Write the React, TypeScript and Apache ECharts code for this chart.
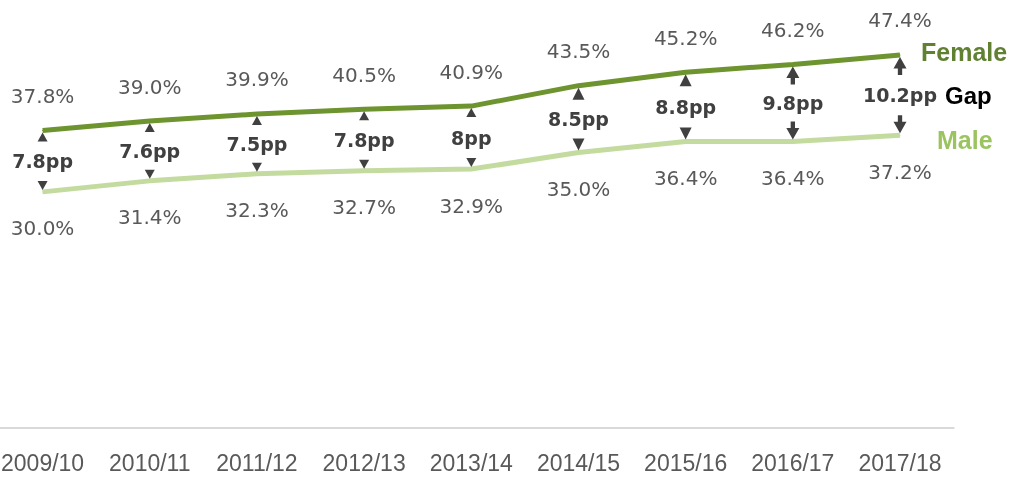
import React, { useEffect, useRef } from "react";
import * as echarts from "echarts";

const categories = ["2009/10", "2010/11", "2011/12", "2012/13", "2013/14", "2014/15", "2015/16", "2016/17", "2017/18"];
const female = [37.8, 39.0, 39.9, 40.5, 40.9, 43.5, 45.2, 46.2, 47.4];
const male = [30.0, 31.4, 32.3, 32.7, 32.9, 35.0, 36.4, 36.4, 37.2];
const gapLabels = ["7.8pp", "7.6pp", "7.5pp", "7.8pp", "8pp", "8.5pp", "8.8pp", "9.8pp", "10.2pp"];

// arrow styling per category: kind 0 = small triangle, 1 = larger triangle, 2 = arrow with stem
const arrowKind = [0, 0, 0, 0, 0, 1, 1, 2, 2];

const UP_ARROW = "path://M6 0 L12 9 L8 9 L8 14 L4 14 L4 9 L0 9 Z";

function arrowItem(value: number, kind: number, up: boolean) {
  const size = kind === 0 ? [10, 9] : kind === 1 ? [12, 12] : [13, 18];
  const sym = kind === 2 ? UP_ARROW : "triangle";
  const off = size[1] / 2 + 2;
  return {
    value,
    symbol: sym,
    symbolSize: size,
    symbolRotate: up ? 0 : 180,
    symbolOffset: [0, up ? off : -off],
  };
}

export default function App() {
  const ref = useRef<HTMLDivElement>(null);
  useEffect(() => {
    if (!ref.current) return;
    const chart = echarts.init(ref.current, null, { renderer: "svg" });
    const mid = female.map((f, i) => (f + male[i]) / 2);
    const last = categories.length - 1;
    const pctFont = { fontFamily: "DejaVu Sans", fontSize: 20, color: "#595959" };
    chart.setOption({
      animation: false,
      grid: { left: 0, right: 57.4, top: 34.5, bottom: 44, containLabel: false },
      xAxis: {
        type: "category",
        data: categories,
        axisLine: { lineStyle: { color: "#d9d9d9", width: 2 } },
        axisTick: { show: false },
        axisLabel: { interval: 0, fontFamily: "Liberation Sans", fontSize: 23, color: "#595959", margin: 18 },
      },
      yAxis: { type: "value", min: -0.64, max: 50, show: false, splitLine: { show: false } },
      series: [
        {
          name: "Female",
          type: "line",
          data: female,
          symbol: "circle",
          symbolSize: 1,
          showSymbol: true,
          itemStyle: { color: "#6e9430" },
          lineStyle: { color: "#6e9430", width: 5 },
          label: { show: true, position: "top", distance: 24, formatter: (p: any) => p.value.toFixed(1) + "%", ...pctFont },
          endLabel: { show: true, formatter: "Female", fontFamily: "Liberation Sans", fontWeight: "bold", fontSize: 25, color: "#5f8131", distance: 21, offset: [0, -3] },
          labelLayout: { hideOverlap: false },
          z: 3,
        },
        {
          name: "Male",
          type: "line",
          data: male,
          symbol: "circle",
          symbolSize: 1,
          showSymbol: true,
          itemStyle: { color: "#c4dba0" },
          lineStyle: { color: "#c4dba0", width: 5 },
          label: { show: true, position: "bottom", distance: 26, formatter: (p: any) => p.value.toFixed(1) + "%", ...pctFont },
          endLabel: { show: true, formatter: "Male", fontFamily: "Liberation Sans", fontWeight: "bold", fontSize: 25, color: "#9bc460", distance: 37, offset: [0, 5] },
          labelLayout: { hideOverlap: false },
          z: 3,
        },
        {
          name: "upArrows",
          type: "scatter",
          data: female.map((v, i) => arrowItem(v, arrowKind[i], true)),
          itemStyle: { color: "#404040", opacity: 1 },
          z: 4,
        },
        {
          name: "downArrows",
          type: "scatter",
          data: male.map((v, i) => arrowItem(v, arrowKind[i], false)),
          itemStyle: { color: "#404040", opacity: 1 },
          z: 4,
        },
        {
          name: "gap",
          type: "scatter",
          data: mid,
          symbolSize: 0,
          itemStyle: { opacity: 1 },
          label: {
            show: true,
            position: "inside",
            formatter: (p: any) => gapLabels[p.dataIndex],
            fontFamily: "DejaVu Sans",
            fontWeight: "bold",
            fontSize: 19,
            color: "#404040",
          },
          z: 5,
        },
        {
          name: "gapTitle",
          type: "scatter",
          data: mid.map((v, i) => (i === last ? v : null)),
          symbolSize: 0,
          itemStyle: { opacity: 1 },
          label: {
            show: true,
            position: "right",
            distance: 45,
            formatter: "Gap",
            fontFamily: "Liberation Sans",
            fontWeight: "bold",
            fontSize: 24,
            color: "#000000",
          },
          z: 5,
        },
      ],
    });
    return () => chart.dispose();
  }, []);
  return <div ref={ref} style={{ position: "fixed", left: -11, top: 0, width: 1022, height: 477 }} />;
}
